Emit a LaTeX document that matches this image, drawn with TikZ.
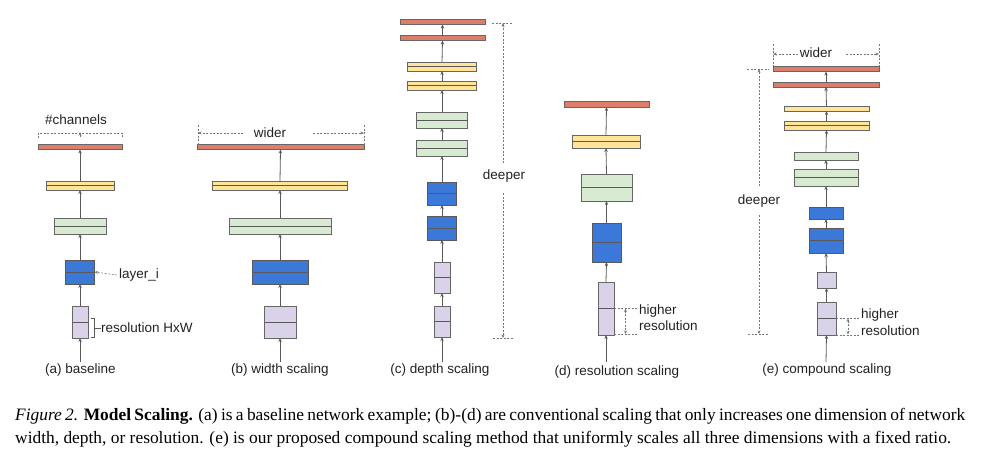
\documentclass[tikz,border=0pt]{standalone}
\usepackage{fontspec}
\setmainfont{Liberation Sans}
\newfontfamily\capfont{Liberation Serif}
\usetikzlibrary{arrows.meta}
\definecolor{redc}{HTML}{DD7E6B}
\definecolor{yelc}{HTML}{FFE599}
\definecolor{grnc}{HTML}{D9EAD3}
\definecolor{bluc}{HTML}{3C78D8}
\definecolor{purc}{HTML}{D9D2E9}
\definecolor{bord}{HTML}{666666}
\definecolor{linec}{HTML}{595959}
\definecolor{dashc}{HTML}{777777}
\definecolor{txtc}{HTML}{222222}
\tikzset{
  blk/.style={draw=bord, line width=0.8pt, inner sep=0pt, outer sep=0pt},
  rd/.style={blk, fill=redc},
  ye/.style={blk, fill=yelc},
  gr/.style={blk, fill=grnc},
  bl/.style={blk, fill=bluc, draw=linec},
  pu/.style={blk, fill=purc},
  mid/.style={path picture={\draw[line width=0.8pt, draw=linec] (path picture bounding box.west) -- (path picture bounding box.east);}},
  arr/.style={draw=linec, line width=0.8pt, -{Stealth[length=4pt,width=3.4pt]}},
  dsh/.style={draw=dashc, line width=0.6pt, dash pattern=on 2pt off 1.5pt},
  darr/.style={dsh, -{Stealth[length=3.5pt,width=3pt]}},
  lab/.style={font=\fontsize{13.5}{16}\selectfont, text=txtc, inner sep=0pt},
  captext/.style={font=\capfont\fontsize{17.4}{20}\selectfont, text=black, inner sep=0pt, anchor=base west},
}
\begin{document}
\begin{tikzpicture}[x=1pt, y=-1pt]
\useasboundingbox (0,0) rectangle (997,467);

% ---------- (a) baseline ----------
\coordinate (a0) at (80,362);
\node[pu, mid, minimum width=16, minimum height=32] (a1) at (80,322) {};
\node[bl, mid, minimum width=29, minimum height=24] (a2) at (80,272) {};
\node[gr, mid, minimum width=52, minimum height=16] (a3) at (80,226) {};
\node[ye, mid, minimum width=68, minimum height=9] (a4) at (80,185.5) {};
\node[rd, minimum width=84, minimum height=5] (a5) at (80,147) {};
\draw[arr] (a0) -- (a1.south);
\draw[arr] (a1.north) -- (a2.south);
\draw[arr] (a2.north) -- (a3.south);
\draw[arr] (a3.north) -- (a4.south);
\draw[arr] (a4.north) -- (a5.south);
\draw[dsh] (38,138) -- (38,133) -- (122,133) -- (122,138);
\coordinate (ach) at (80,132);
\draw[darr] (80,137) -- (ach);
\node[lab] (tch) at (76,120) {\#channels};
\node[lab, anchor=west] (tli) at (119,275) {layer\_i};
\draw[darr] (tli.west) ++(-2,0) -- (a2.east);
\node[lab, anchor=west] (tres) at (101,328) {resolution HxW};
\draw[draw=linec, line width=0.7pt] (91,318.5) -- (94.5,318.5) -- (94.5,337.5) -- (91,337.5);
\draw[draw=linec, line width=0.7pt] (94.5,328) -- (tres.west);
\node[lab] (la) at (80.5,370) {(a) baseline};

% ---------- (b) width scaling ----------
\coordinate (b0) at (280,362);
\node[pu, mid, minimum width=32, minimum height=32] (b1) at (280,322) {};
\node[bl, mid, minimum width=56, minimum height=24] (b2) at (280,272) {};
\node[gr, mid, minimum width=102, minimum height=16] (b3) at (280,226) {};
\node[ye, mid, minimum width=135, minimum height=9] (b4) at (280,185.5) {};
\node[rd, minimum width=167, minimum height=5] (b5) at (280.5,147) {};
\draw[arr] (b0) -- (b1.south);
\draw[arr] (b1.north) -- (b2.south);
\draw[arr] (b2.north) -- (b3.south);
\draw[arr] (b3.north) -- (b4.south);
\draw[arr] (b4.north) -- (b5.south);
\draw[dsh] (198,125) -- (198,145);
\draw[dsh] (364,125) -- (364,145);
\node[lab] (tw) at (270,133) {wider};
\coordinate (bwl) at (198,133);
\coordinate (bwr) at (364,133);
\draw[darr] (243,133) -- (bwl);
\draw[darr] (313,133) -- (bwr);
\node[lab] (lb) at (280,370) {(b) width scaling};

% ---------- (c) depth scaling ----------
\coordinate (c0) at (442,362);
\node[pu, mid, minimum width=16, minimum height=31] (c1) at (442,321.5) {};
\node[pu, mid, minimum width=16, minimum height=31] (c2) at (442,277.5) {};
\node[bl, mid, minimum width=29, minimum height=24] (c3) at (442,228) {};
\node[bl, mid, minimum width=29, minimum height=23] (c4) at (442,193.5) {};
\node[gr, mid, minimum width=51, minimum height=16] (c5) at (442,148) {};
\node[gr, mid, minimum width=51, minimum height=16] (c6) at (442,120) {};
\node[ye, mid, minimum width=69, minimum height=9] (c7) at (442,85.5) {};
\node[ye, mid, minimum width=69, minimum height=9] (c8) at (442,66.5) {};
\node[rd, minimum width=85, minimum height=5] (c9) at (442.5,38) {};
\node[rd, minimum width=85, minimum height=5] (c10) at (442.5,22) {};
\draw[arr] (c0) -- (c1.south);
\draw[arr] (c1.north) -- (c2.south);
\draw[arr] (c2.north) -- (c3.south);
\draw[arr] (c3.north) -- (c4.south);
\draw[arr] (c4.north) -- (c5.south);
\draw[arr] (c5.north) -- (c6.south);
\draw[arr] (c6.north) -- (c7.south);
\draw[arr] (c7.north) -- (c8.south);
\draw[arr] (c8.north) -- (c9.south);
\draw[arr] (c9.north) -- (c10.south);
\draw[dsh] (492,23) -- (512,23);
\draw[dsh] (493,338) -- (514,338);
\node[lab] (td) at (504,176) {deeper};
\coordinate (cdt) at (503,23);
\coordinate (cdb) at (503,338);
\draw[darr] (503,163) -- (cdt);
\draw[darr] (503,193) -- (cdb);
\node[lab] (lc) at (440,370) {(c) depth scaling};

% ---------- (d) resolution scaling ----------
\coordinate (d0) at (606,362);
\node[pu, mid, minimum width=16, minimum height=53] (d1) at (606,308.5) {};
\node[bl, mid, minimum width=29, minimum height=39] (d2) at (606.5,242.5) {};
\node[gr, mid, minimum width=51, minimum height=27] (d3) at (606.5,187.5) {};
\node[ye, mid, minimum width=68, minimum height=13] (d4) at (606,141.5) {};
\node[rd, minimum width=85, minimum height=6] (d5) at (606.5,104) {};
\draw[arr] (d0) -- (d1.south);
\draw[arr] (d1.north) -- (d2.south);
\draw[arr] (d2.north) -- (d3.south);
\draw[arr] (d3.north) -- (d4.south);
\draw[arr] (d4.north) -- (d5.south);
\draw[dsh] (614,308) -- (637,308);
\draw[dsh] (614,334.5) -- (637,334.5);
\draw[dsh, {Stealth[length=3.5pt,width=3pt]}-{Stealth[length=3.5pt,width=3pt]}] (625.5,308.5) -- (625.5,334);
\node[lab, anchor=west] (dh) at (639,311) {higher};
\node[lab, anchor=west] (dr) at (639,326) {resolution};
\node[lab] (ld) at (617,372) {(d) resolution scaling};

% ---------- (e) compound scaling ----------
\coordinate (e0) at (826,362);
\node[pu, mid, minimum width=19, minimum height=33] (e1) at (826.5,318.5) {};
\node[pu, minimum width=19, minimum height=16] (e2) at (826.5,280) {};
\node[bl, mid, minimum width=34, minimum height=25] (e3) at (826,240.5) {};
\node[bl, minimum width=34, minimum height=12] (e4) at (826,213) {};
\node[gr, mid, minimum width=64, minimum height=17] (e5) at (826,177.5) {};
\node[gr, minimum width=64, minimum height=8] (e6) at (826,156) {};
\node[ye, mid, minimum width=85, minimum height=9] (e7) at (826.5,125.5) {};
\node[ye, minimum width=85, minimum height=5] (e8) at (826.5,108.5) {};
\node[rd, minimum width=106, minimum height=5] (e9) at (826,84.5) {};
\node[rd, minimum width=106, minimum height=5] (e10) at (826,69) {};
\draw[arr] (e0) -- (e1.south);
\draw[arr] (e1.north) -- (e2.south);
\draw[arr] (e2.north) -- (e3.south);
\draw[arr] (e3.north) -- (e4.south);
\draw[arr] (e4.north) -- (e5.south);
\draw[arr] (e5.north) -- (e6.south);
\draw[arr] (e6.north) -- (e7.south);
\draw[arr] (e7.north) -- (e8.south);
\draw[arr] (e8.north) -- (e9.south);
\draw[arr] (e9.north) -- (e10.south);
% wider
\draw[dsh] (773,44) -- (773,66);
\draw[dsh] (879,44) -- (879,66);
\node[lab] (tew) at (816,53) {wider};
\coordinate (ewl) at (773,54);
\coordinate (ewr) at (879,54);
\draw[darr] (798,54) -- (ewl);
\draw[darr] (846,54) -- (ewr);
% deeper
\draw[dsh] (747,69) -- (769,69);
\draw[dsh] (748,334) -- (769,334);
\node[lab] (ted) at (759,201) {deeper};
\coordinate (edt) at (759,69);
\coordinate (edb) at (759,334);
\draw[darr] (759,186) -- (edt);
\draw[darr] (759,215) -- (edb);
% higher resolution
\draw[dsh] (836,318) -- (860,318);
\draw[dsh] (836,335) -- (860,335);
\draw[dsh, {Stealth[length=3.5pt,width=3pt]}-{Stealth[length=3.5pt,width=3pt]}] (848,318.5) -- (848,334.5);
\node[lab, anchor=west] (eh) at (861,315) {higher};
\node[lab, anchor=west] (er) at (861,331) {resolution};
\node[lab] (le) at (827,370) {(e) compound scaling};

% ---------- caption ----------
\node[captext] (cap1) at (15,420) {\makebox[950pt][s]{\textit{Figure 2.} \textbf{Model Scaling.} (a) is a baseline network example; (b)-(d) are conventional scaling that only increases one dimension of network}};
\node[captext] (cap2) at (15,443) {width, depth, or resolution. (e) is our proposed compound scaling method that uniformly scales all three dimensions with a fixed ratio.};
\end{tikzpicture}
\end{document}
